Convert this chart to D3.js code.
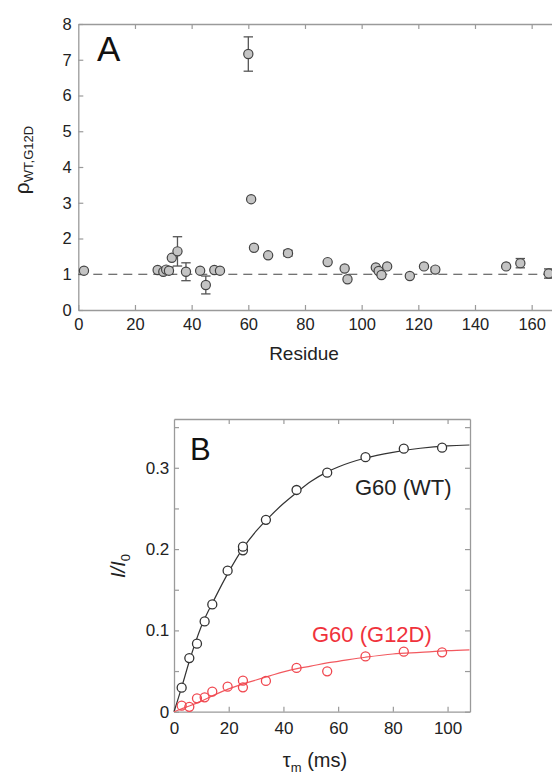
<!DOCTYPE html>
<html>
<head>
<meta charset="utf-8">
<script src="https://cdn.jsdelivr.net/npm/d3@7"></script>
<style>
  body { margin: 0; background: #fff; }
  svg { display: block; font-family: "Liberation Sans", Arial, sans-serif; }
</style>
</head>
<body>
<script>
// panel A: residue, ratio, error
var residues = [2, 28, 30, 31, 32, 33, 35, 38, 43, 45, 48, 50, 60, 61, 62, 67, 74, 88, 94, 95, 105, 106, 107, 109, 117, 122, 126, 151, 156, 166];
var ratios   = [1.10, 1.12, 1.07, 1.13, 1.10, 1.46, 1.64, 1.07, 1.10, 0.70, 1.12, 1.10, 7.16, 3.10, 1.74, 1.53, 1.59, 1.34, 1.16, 0.86, 1.19, 1.09, 0.98, 1.22, 0.95, 1.22, 1.13, 1.22, 1.31, 1.02];
var ratioErr = [0, 0, 0, 0, 0.10, 0, 0.41, 0.25, 0, 0.25, 0, 0, 0.48, 0, 0, 0, 0.08, 0, 0, 0, 0, 0, 0, 0, 0, 0, 0.06, 0, 0.13, 0.13];
var xTicksA = [0, 20, 40, 60, 80, 100, 120, 140, 160];
var yTicksA = [0, 1, 2, 3, 4, 5, 6, 7, 8];

// panel B: mixing time (ms) and I/I0
var tauM   = [2.8, 5.6, 8.4, 11.2, 14, 19.6, 25.2, 25.2, 33.6, 44.8, 56, 70, 84, 98];
var wtVals = [0.0295, 0.066, 0.0837, 0.111, 0.132, 0.1735, 0.1985, 0.203, 0.236, 0.2727, 0.294, 0.313, 0.3235, 0.3247];
var mutTau  = [2.8, 5.6, 8.4, 11.2, 14, 19.6, 25.2, 25.2, 33.6, 44.8, 56, 70, 84, 98];
var mutVals = [0.0074, 0.006, 0.0165, 0.0177, 0.0246, 0.0308, 0.0381, 0.030, 0.0378, 0.0538, 0.0497, 0.068, 0.0738, 0.073];
// fitted curves
var fitTau = [0, 2.8, 5.6, 10, 15, 20, 25, 30, 35, 40, 45, 50, 56, 60, 70, 80, 90, 100, 108];
var wtFit  = [0, 0.03, 0.062, 0.105, 0.14, 0.172, 0.2, 0.222, 0.24, 0.256, 0.27, 0.283, 0.295, 0.301, 0.312, 0.319, 0.324, 0.327, 0.328];
var mutFit = [0, 0.0035, 0.007, 0.013, 0.021, 0.028, 0.034, 0.039, 0.044, 0.049, 0.053, 0.056, 0.060, 0.062, 0.067, 0.071, 0.073, 0.075, 0.076];
var xTicksB = [0, 20, 40, 60, 80, 100];
var yTicksB = [0, 0.05, 0.1, 0.15, 0.2, 0.25, 0.3, 0.35];
var yLabelsB = [0, 0.1, 0.2, 0.3];

var frame = "#9a9a9a";
var ink = "#222";

var svg = d3.select("body").append("svg")
  .attr("width", 552)
  .attr("height", 774);

function styleAxis(g, size) {
  g.select(".domain").attr("stroke", frame).attr("stroke-width", 1.3);
  g.selectAll(".tick line").attr("stroke", frame).attr("stroke-width", 1.2);
  g.selectAll(".tick text").attr("fill", ink).style("font-size", size + "px");
}

// ---------- panel A ----------
var xA = d3.scaleLinear().domain([0, 170]).range([78.3, 560]);
var yA = d3.scaleLinear().domain([0, 8]).range([310, 24]);

svg.append("g")
  .attr("transform", "translate(0," + yA(0) + ")")
  .call(d3.axisBottom(xA).tickValues(xTicksA).tickSizeInner(-5).tickSizeOuter(0).tickPadding(8))
  .call(styleAxis, 16.5);

svg.append("g")
  .attr("transform", "translate(0," + yA(8) + ")")
  .call(d3.axisTop(xA).tickValues(xTicksA.slice(1)).tickSizeInner(-5).tickSizeOuter(0).tickFormat(""))
  .call(styleAxis, 16.5);

svg.append("g")
  .attr("transform", "translate(" + xA(0) + ",0)")
  .call(d3.axisLeft(yA).tickValues(yTicksA).tickSizeInner(-5).tickSizeOuter(0).tickPadding(6.5))
  .call(styleAxis, 16.5);

// dashed reference line at 1
svg.append("line")
  .attr("x1", xA(0))
  .attr("x2", xA(170))
  .attr("y1", yA(1))
  .attr("y2", yA(1))
  .attr("stroke", "#444")
  .attr("stroke-width", 1.2)
  .attr("stroke-dasharray", "9,6");

var ptsA = residues.map(function(r, i) { return { r: r, v: ratios[i], e: ratioErr[i] }; });

var errA = svg.append("g").selectAll("g")
  .data(ptsA.filter(function(d) { return d.e > 0; }))
  .enter().append("g")
  .attr("stroke", "#555")
  .attr("stroke-width", 1.3);

errA.append("line")
  .attr("x1", function(d) { return xA(d.r); })
  .attr("x2", function(d) { return xA(d.r); })
  .attr("y1", function(d) { return yA(d.v - d.e); })
  .attr("y2", function(d) { return yA(d.v + d.e); });
errA.append("line")
  .attr("x1", function(d) { return xA(d.r) - 4.7; })
  .attr("x2", function(d) { return xA(d.r) + 4.7; })
  .attr("y1", function(d) { return yA(d.v + d.e); })
  .attr("y2", function(d) { return yA(d.v + d.e); });
errA.append("line")
  .attr("x1", function(d) { return xA(d.r) - 4.7; })
  .attr("x2", function(d) { return xA(d.r) + 4.7; })
  .attr("y1", function(d) { return yA(d.v - d.e); })
  .attr("y2", function(d) { return yA(d.v - d.e); });

svg.append("g").selectAll("circle")
  .data(ptsA)
  .enter().append("circle")
  .attr("cx", function(d) { return xA(d.r); })
  .attr("cy", function(d) { return yA(d.v); })
  .attr("r", 4.6)
  .attr("fill", "#c4c4c4")
  .attr("stroke", "#444")
  .attr("stroke-width", 1.2);

svg.append("text")
  .attr("x", 97)
  .attr("y", 61)
  .style("font-size", "35px")
  .attr("fill", "#111")
  .text("A");

svg.append("text")
  .attr("x", 304)
  .attr("y", 360)
  .attr("text-anchor", "middle")
  .style("font-size", "19px")
  .attr("fill", ink)
  .text("Residue");

var yLabA = svg.append("text")
  .attr("transform", "translate(29,160) rotate(-90)")
  .attr("text-anchor", "middle")
  .attr("fill", ink);
yLabA.append("tspan").style("font-size", "21px").text("ρ");
yLabA.append("tspan").style("font-size", "13px").attr("dy", 4).text("WT,G12D");

// ---------- panel B ----------
var xB = d3.scaleLinear().domain([0, 108.2]).range([174, 470]);
var yB = d3.scaleLinear().domain([0, 0.36]).range([711.7, 419]);

svg.append("g")
  .attr("transform", "translate(0," + yB(0) + ")")
  .call(d3.axisBottom(xB).tickValues(xTicksB).tickSizeInner(-5).tickSizeOuter(0).tickPadding(10))
  .call(styleAxis, 17);

svg.append("g")
  .attr("transform", "translate(0," + yB(0.36) + ")")
  .call(d3.axisTop(xB).tickValues(xTicksB.slice(1)).tickSizeInner(-5).tickSizeOuter(0).tickFormat(""))
  .call(styleAxis, 17);

svg.append("g")
  .attr("transform", "translate(" + xB(0) + ",0)")
  .call(d3.axisLeft(yB).tickValues(yTicksB).tickSizeInner(-5).tickSizeOuter(0).tickPadding(4.7)
    .tickFormat(function(d) { return yLabelsB.some(function(l) { return Math.abs(l - d) < 1e-9; }) ? d3.format("")(+d.toFixed(2)) : ""; }))
  .call(styleAxis, 17);

svg.append("g")
  .attr("transform", "translate(" + xB(108.2) + ",0)")
  .call(d3.axisRight(yB).tickValues(yTicksB).tickSizeInner(-5).tickSizeOuter(0).tickFormat(""))
  .call(styleAxis, 17);

var line = d3.line()
  .x(function(d) { return xB(d[0]); })
  .y(function(d) { return yB(d[1]); })
  .curve(d3.curveMonotoneX);

svg.append("path")
  .datum(fitTau.map(function(t, i) { return [t, wtFit[i]]; }))
  .attr("d", line)
  .attr("fill", "none")
  .attr("stroke", "#333")
  .attr("stroke-width", 1.2);

svg.append("path")
  .datum(fitTau.map(function(t, i) { return [t, mutFit[i]]; }))
  .attr("d", line)
  .attr("fill", "none")
  .attr("stroke", "#f2595f")
  .attr("stroke-width", 1.2);

svg.append("g").selectAll("circle")
  .data(tauM.map(function(t, i) { return [t, wtVals[i]]; }))
  .enter().append("circle")
  .attr("cx", function(d) { return xB(d[0]); })
  .attr("cy", function(d) { return yB(d[1]); })
  .attr("r", 4.5)
  .attr("fill", "#fff")
  .attr("stroke", "#333")
  .attr("stroke-width", 1.3);

svg.append("g").selectAll("circle")
  .data(mutTau.map(function(t, i) { return [t, mutVals[i]]; }))
  .enter().append("circle")
  .attr("cx", function(d) { return xB(d[0]); })
  .attr("cy", function(d) { return yB(d[1]); })
  .attr("r", 4.5)
  .attr("fill", "none")
  .attr("stroke", "#f0474f")
  .attr("stroke-width", 1.3);

svg.append("text")
  .attr("x", 190)
  .attr("y", 459.5)
  .style("font-size", "31px")
  .attr("fill", "#111")
  .text("B");

svg.append("text")
  .attr("x", 355)
  .attr("y", 495)
  .style("font-size", "22px")
  .attr("fill", ink)
  .text("G60 (WT)");

svg.append("text")
  .attr("x", 312)
  .attr("y", 641.5)
  .style("font-size", "22px")
  .attr("fill", "#f0323c")
  .text("G60 (G12D)");

var xLabB = svg.append("text")
  .attr("x", 315)
  .attr("y", 767)
  .attr("text-anchor", "middle")
  .attr("fill", ink)
  .style("font-size", "20px");
xLabB.append("tspan").text("τ");
xLabB.append("tspan").style("font-size", "13px").attr("dy", 5).text("m");
xLabB.append("tspan").attr("dy", -5).text(" (ms)");

var yLabB = svg.append("text")
  .attr("transform", "translate(125,566) rotate(-90)")
  .attr("text-anchor", "middle")
  .attr("fill", ink)
  .style("font-size", "20px")
  .style("font-style", "italic");
yLabB.append("tspan").text("I/I");
yLabB.append("tspan").style("font-size", "13px").style("font-style", "normal").attr("dy", 5).text("0");
</script>
</body>
</html>
